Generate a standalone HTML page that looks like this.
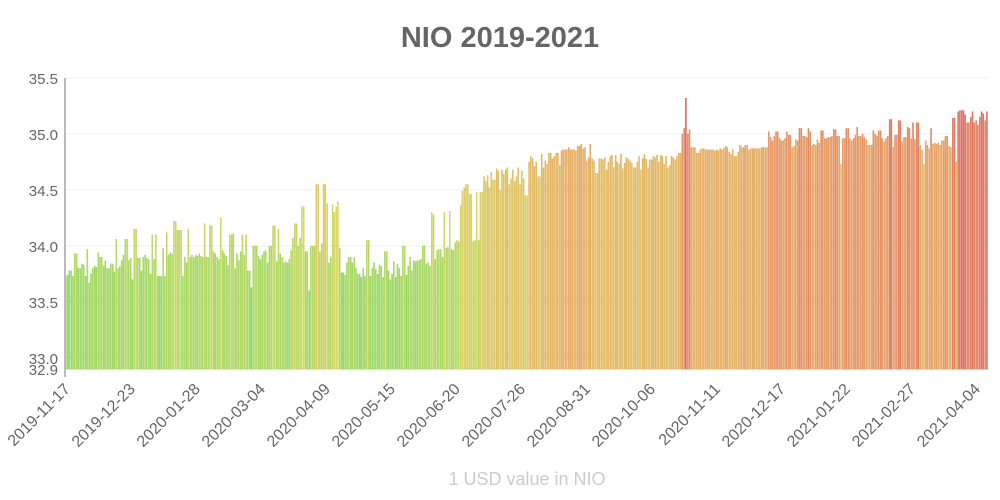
<!DOCTYPE html>
<html><head><meta charset="utf-8"><style>
body{margin:0;background:#fff;}
svg{display:block;font-family:"Liberation Sans",sans-serif;}
</style></head><body>
<svg id="chart" width="1000" height="500">
<text x="500" y="47" text-anchor="middle" font-size="29" font-weight="bold" fill="#666">NIO 2019-2021</text>
<text x="527" y="485" text-anchor="middle" font-size="18" fill="#ccc">1 USD value in NIO</text>
<g id="grid"></g><g id="bars"></g><g id="axes"></g>
</svg>
<script>
const startDate = "2019-11-17";
const tickStepDays = 36;
const yTicks = [32.9, 33.0, 33.5, 34.0, 34.5, 35.0, 35.5];
const values = [
33.73,33.74,33.78,33.78,33.73,33.93,33.93,33.80,33.80,33.84,
33.83,33.73,33.97,33.67,33.75,33.80,33.82,33.81,33.94,33.90,
33.90,33.82,33.87,33.80,33.80,33.84,33.84,33.77,34.06,33.80,
33.82,33.87,33.92,34.06,34.06,33.87,33.89,33.70,34.15,34.15,
33.89,33.89,33.78,33.90,33.92,33.89,33.88,33.75,34.10,33.88,
34.10,33.73,33.73,33.73,33.98,33.73,34.12,33.92,33.94,33.93,
34.22,34.22,34.14,34.14,34.14,33.73,33.90,33.85,34.15,33.90,
33.92,33.90,33.92,33.91,33.93,33.91,33.90,34.20,33.90,33.90,
34.18,34.18,33.95,33.93,33.90,33.88,34.25,33.96,33.93,33.91,
33.83,34.10,34.10,34.11,33.80,33.93,33.87,33.95,34.10,33.92,
34.10,33.78,33.78,33.63,34.00,34.00,34.00,33.91,33.88,33.92,
33.95,33.96,33.85,34.00,34.00,34.18,34.18,33.86,34.15,33.93,
33.90,33.85,33.86,33.85,33.88,33.96,34.07,34.20,34.20,34.00,
34.07,34.35,34.35,33.95,33.95,33.60,34.00,34.00,34.00,34.55,
34.55,33.95,34.02,34.55,34.55,34.38,33.85,33.90,34.37,34.30,
34.35,34.40,33.98,33.76,33.76,33.74,33.85,33.90,33.90,33.85,
33.90,33.80,33.75,33.75,33.72,33.80,33.73,34.05,34.05,33.73,
33.80,33.85,33.79,33.75,33.83,33.82,33.72,33.95,33.95,33.78,
33.70,33.75,33.86,33.72,33.84,33.80,33.73,34.00,34.00,33.74,
33.82,33.90,33.78,33.87,33.86,33.87,33.87,33.88,34.00,34.00,
33.84,33.85,33.82,34.30,34.28,33.88,33.96,33.97,33.97,33.90,
34.30,33.98,33.99,34.31,33.97,33.96,34.03,34.05,34.04,34.36,
34.49,34.52,34.55,34.55,34.46,34.46,34.04,34.05,34.48,34.05,
34.48,34.48,34.62,34.58,34.63,34.52,34.66,34.59,34.59,34.69,
34.67,34.50,34.68,34.64,34.68,34.70,34.55,34.60,34.68,34.58,
34.62,34.70,34.55,34.67,34.60,34.45,34.45,34.75,34.80,34.78,
34.71,34.75,34.62,34.62,34.82,34.70,34.76,34.73,34.83,34.83,
34.78,34.80,34.83,34.83,34.72,34.85,34.86,34.86,34.86,34.88,
34.86,34.86,34.86,34.85,34.89,34.89,34.91,34.87,34.88,34.76,
34.79,34.91,34.78,34.76,34.65,34.65,34.78,34.78,34.77,34.79,
34.68,34.75,34.80,34.81,34.70,34.81,34.75,34.73,34.82,34.69,
34.74,34.79,34.78,34.76,34.74,34.70,34.70,34.75,34.80,34.68,
34.78,34.82,34.78,34.70,34.77,34.77,34.80,34.79,34.81,34.75,
34.81,34.80,34.73,34.80,34.70,34.72,
34.80,34.79,34.77,34.80,34.83,34.83,35.00,35.05,35.32,35.00,
35.04,34.88,34.88,34.88,34.83,34.83,34.86,34.87,34.87,34.86,
34.86,34.86,34.86,34.86,34.85,34.86,34.85,34.87,34.86,34.87,
34.89,34.88,34.84,34.82,34.86,34.80,34.80,34.84,34.90,34.88,
34.88,34.90,34.90,34.86,34.87,34.87,34.87,34.87,34.87,34.87,
34.88,34.88,34.88,34.88,35.02,34.97,34.94,34.98,35.02,35.02,
34.96,34.94,34.94,34.96,35.02,34.99,34.99,34.88,34.89,34.95,
34.94,35.05,35.05,34.98,34.98,34.97,35.05,35.02,34.90,34.91,
34.90,34.95,34.92,35.03,35.03,34.96,34.96,34.97,
34.97,34.98,35.04,35.04,34.98,34.98,34.73,34.96,34.96,35.05,
35.05,34.96,34.94,34.96,34.99,35.06,34.98,34.98,35.00,34.97,
34.95,34.90,34.90,34.90,35.03,35.00,34.98,35.03,35.03,34.96,
34.93,34.96,34.98,35.13,35.13,34.88,34.99,34.99,35.12,35.12,
34.93,34.97,34.97,35.06,35.05,34.96,35.10,34.95,35.10,35.10,
34.90,34.86,34.73,34.94,34.90,34.87,35.05,34.91,34.92,34.91,
34.92,34.90,34.94,34.94,34.98,34.98,34.89,34.88,35.14,35.14,
34.75,35.20,35.21,35.21,35.21,35.17,35.10,35.10,35.15,35.20,
35.10,35.12,35.08,35.15,35.20,35.18,35.12,35.20
];
const NS="http://www.w3.org/2000/svg";
const X0=65, X1=988, Y0=369.2, yMin=32.9, pxPerUnit=112;
const dayW=1.806;
function yScale(v){return Y0-(v-yMin)*pxPerUnit;}
function xScale(i){return X0+i*((X1-X0)/values.length);}
function mk(tag,attrs,parent){const e=document.createElementNS(NS,tag);for(const k in attrs)e.setAttribute(k,attrs[k]);parent.appendChild(e);return e;}
const stops=[[33.6,[102,204,51]],[34.4,[204,204,51]],[34.85,[221,153,51]],[35.05,[221,102,51]],[35.3,[204,51,51]]];
function color(v){
  if(v<=stops[0][0])return stops[0][1];
  for(let i=1;i<stops.length;i++){if(v<=stops[i][0]){const a=stops[i-1],b=stops[i];const t=(v-a[0])/(b[0]-a[0]);return a[1].map((c,j)=>Math.round(c+(b[1][j]-c)*t));}}
  return stops[stops.length-1][1];
}
const grid=document.getElementById('grid'),bars=document.getElementById('bars'),axes=document.getElementById('axes');
yTicks.forEach(t=>{
  const y=yScale(t);
  const l=mk('line',{x1:X0,x2:X1,y1:y,y2:y,stroke:'#f0f0f0','stroke-width':1},grid);
  
  
  const tx=mk('text',{x:58,y:y+6,'text-anchor':'end','font-size':15,fill:'#666'},axes);
  tx.textContent=t.toFixed(1);
  
  
});
const bw=(X1-X0)/values.length;
values.forEach((v,i)=>{
  const c=color(v), y=yScale(v);
  const r=mk('rect',{x:xScale(i)+0.2,y:y,width:bw*0.62,height:Y0-y,fill:`rgba(${c[0]},${c[1]},${c[2]},0.7)`,stroke:`rgb(${c[0]},${c[1]},${c[2]})`,'stroke-width':0.3},bars);
  
  
});
const ax=mk('line',{x1:X0,x2:X0,y1:78,y2:377,stroke:'#bbb','stroke-width':2},axes);


const sd=new Date(startDate+"T00:00:00Z");
for(let d=0;X0+d*dayW<=X1;d+=tickStepDays){
  const x=X0+d*dayW;
  const dt=new Date(sd.getTime()+d*86400000);
  const s=dt.toISOString().slice(0,10);
  const tx=mk('text',{x:x+6,y:390,'text-anchor':'end','font-size':16,fill:'#666',transform:`rotate(-45 ${x+6} 390)`},axes);
  tx.textContent=s;
  
  
}
</script>
</body></html>
